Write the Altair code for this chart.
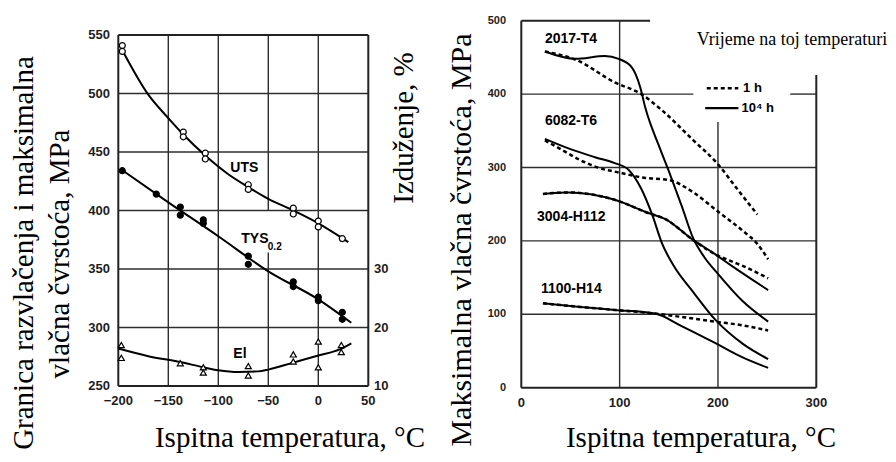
import altair as alt
import pandas as pd

# ---------------- left panel data ----------------
uts_temp = [-196, -196, -135, -135, -113, -113, -70, -70, -25, -25, 0, 0, 24]
uts_mpa = [541, 536, 467, 463, 449, 444, 422, 418, 402, 397, 391, 386, 376]
uts_fit_temp = [-196, -170, -150, -135, -113, -90, -70, -50, -25, 0, 30]
uts_fit_mpa = [537, 499, 479, 465, 447, 431, 420, 410, 400, 389, 373]

tys_temp = [-196, -162, -138, -138, -115, -115, -70, -70, -25, -25, 0, 0, 24, 24]
tys_mpa = [434, 414, 403, 396, 392, 389, 361, 354, 339, 335, 326, 323, 313, 307]
tys_fit_temp = [-197, -150, -100, -50, 0, 33]
tys_fit_mpa = [435, 407, 378, 348, 324, 304]

el_temp = [-197, -197, -138, -115, -115, -70, -70, -25, -25, 0, 0, 23, 23]
el_pct = [17.0, 14.8, 13.9, 13.2, 12.3, 13.4, 11.8, 15.4, 14.2, 17.6, 13.2, 17.0, 15.8]
el_fit_temp = [-200, -170, -138, -115, -100, -80, -60, -50, -25, 0, 22, 33]
el_fit_pct = [16.4, 15.1, 14.1, 13.2, 12.7, 12.4, 12.5, 12.8, 14.0, 15.2, 16.3, 17.3]

left_x_ticks = [-200, -150, -100, -50, 0, 50]
left_y_ticks = [250, 300, 350, 400, 450, 500, 550]
el_ticks = [10, 20, 30]

# ---------------- right panel data ----------------
a2017_1h_temp = [24, 55, 95, 122, 143, 175, 199, 220, 240]
a2017_1h_mpa = [458, 447, 416, 400, 378, 337, 306, 270, 236]
a2017_1e4h_temp = [24, 55, 85, 99, 112, 121, 126, 141, 152, 163, 175, 186, 200, 225, 251]
a2017_1e4h_mpa = [458, 448, 452, 448, 437, 409, 382, 326, 288, 248, 203, 178, 155, 118, 90]
a6082_1h_temp = [24, 40, 60, 80, 100, 125, 150, 175, 200, 225, 240, 251]
a6082_1h_mpa = [337, 325, 310, 299, 293, 286, 283, 266, 240, 214, 196, 175]
a6082_1e4h_temp = [24, 50, 75, 95, 109, 122, 133, 143, 155, 175, 197, 225, 251]
a6082_1e4h_mpa = [339, 325, 314, 306, 297, 271, 236, 197, 166, 130, 93, 60, 39]
a3004_1h_temp = [22, 48, 95, 129, 146, 175, 197, 214, 225, 251]
a3004_1h_mpa = [264, 266, 256, 238, 230, 201, 182, 172, 166, 149]
a3004_1e4h_temp = [22, 48, 95, 129, 146, 175, 197, 214, 251]
a3004_1e4h_mpa = [264, 266, 256, 238, 230, 201, 182, 166, 133]
a1100_1h_temp = [22, 60, 95, 136, 165, 197, 225, 251]
a1100_1h_mpa = [115, 110, 106, 101, 96, 90, 85, 78]
a1100_1e4h_temp = [22, 60, 95, 136, 163, 197, 224, 251]
a1100_1e4h_mpa = [115, 110, 106, 101, 84, 61, 42, 27]

right_x_ticks = [0, 100, 200, 300]
right_y_ticks = [0, 100, 200, 300, 400, 500]

SANS = "Liberation Sans"
SERIF = "Liberation Serif"
GRID = "#2e2e2e"

# ---------------- scales (pixel ranges place the two panels) ----------------
lx = alt.Scale(domain=[-200, 50], range=[110.3, 360.3], nice=False, zero=False)
ly = alt.Scale(domain=[250, 550], range=[378, 27], nice=False, zero=False)
ely = alt.Scale(domain=[10, 70], range=[378, 27], nice=False, zero=False)
rx = alt.Scale(domain=[0, 300], range=[513.3, 808.3], nice=False, zero=False)
ry = alt.Scale(domain=[0, 500], range=[379.7, 12.7], nice=False, zero=False)


def segs(rows, xs, ys, width, color=GRID, dash=None):
    df = pd.DataFrame(rows, columns=["x", "y", "x2", "y2"])
    kw = dict(color=color, strokeWidth=width)
    if dash:
        kw["strokeDash"] = dash
    return alt.Chart(df).mark_rule(**kw).encode(
        x=alt.X("x:Q", scale=xs, axis=None),
        y=alt.Y("y:Q", scale=ys, axis=None),
        x2="x2:Q", y2="y2:Q")


def curve(temps, vals, xs, ys, dash=None, width=2.0):
    df = pd.DataFrame({"t": temps, "v": vals})
    kw = dict(color="black", strokeWidth=width, interpolate="monotone")
    if dash:
        kw["strokeDash"] = dash
    return alt.Chart(df).mark_line(**kw).encode(
        x=alt.X("t:Q", scale=xs, axis=None), y=alt.Y("v:Q", scale=ys, axis=None))


def points(temps, vals, xs, ys, shape, fill):
    df = pd.DataFrame({"t": temps, "v": vals})
    return alt.Chart(df).mark_point(shape=shape, filled=True, fill=fill, stroke="black",
                                    strokeWidth=1.2, size=36, opacity=1).encode(
        x=alt.X("t:Q", scale=xs, axis=None), y=alt.Y("v:Q", scale=ys, axis=None))


def texts(labels, xv, yv, xs, ys, size, font=SANS, weight="bold", align="left"):
    df = pd.DataFrame({"label": labels, "x": xv, "y": yv})
    return alt.Chart(df).mark_text(font=font, fontSize=size, fontWeight=weight, align=align,
                                   baseline="middle", color="black").encode(
        x=alt.X("x:Q", scale=xs, axis=None), y=alt.Y("y:Q", scale=ys, axis=None),
        text="label:N")


def xticks(values, xs, ypix, size=13):
    df = pd.DataFrame({"v": values})
    return alt.Chart(df).mark_text(font=SANS, fontSize=size, fontWeight="bold", align="center",
                                   baseline="middle", color="#1e1e1e").encode(
        x=alt.X("v:Q", scale=xs, axis=None), y=alt.value(ypix),
        text=alt.Text("v:Q", format="d"))


def yticks(values, ys, xpix, align, size=13):
    df = pd.DataFrame({"v": values})
    return alt.Chart(df).mark_text(font=SANS, fontSize=size, fontWeight="bold", align=align,
                                   baseline="middle", color="#1e1e1e").encode(
        x=alt.value(xpix), y=alt.Y("v:Q", scale=ys, axis=None),
        text=alt.Text("v:Q", format="d"))


def title_text(label, xpix, ypix, size=29, angle=0):
    df = pd.DataFrame({"label": [label]})
    return alt.Chart(df).mark_text(font=SERIF, fontSize=size, fontWeight="normal",
                                   align="center", baseline="alphabetic", angle=angle,
                                   color="black").encode(
        x=alt.value(xpix), y=alt.value(ypix), text="label:N")


# ---------------- left panel ----------------
left_grid_rows = []
for v in [300, 350, 400, 450, 500]:
    left_grid_rows.append([-200, v, 50, v])
for t in [-150, -100, 0]:
    left_grid_rows.append([t, 250, t, 550])
left_grid_rows += [[-50, 250, -50, 364], [-50, 400, -50, 550]]

left_frame_rows = [[-200, 250, 50, 250], [-200, 550, 50, 550],
                   [-200, 250, -200, 550], [50, 250, 50, 550]]

mpa_layers = alt.layer(
    segs(left_grid_rows, lx, ly, 1.4),
    segs(left_frame_rows, lx, ly, 2.0, color="#222"),
    curve(uts_fit_temp, uts_fit_mpa, lx, ly),
    curve(tys_fit_temp, tys_fit_mpa, lx, ly),
    points(uts_temp, uts_mpa, lx, ly, "circle", "white"),
    points(tys_temp, tys_mpa, lx, ly, "circle", "black"),
    texts(["UTS"], [-88], [436], lx, ly, 14),
    texts(["TYS"], [-77], [376], lx, ly, 14),
    texts(["0.2"], [-50.5], [369], lx, ly, 10),
    texts(["El"], [-85], [277], lx, ly, 14),
    xticks(left_x_ticks, lx, 393),
    yticks(left_y_ticks, ly, 102, "right"),
)

el_layers = alt.layer(
    curve(el_fit_temp, el_fit_pct, lx, ely),
    points(el_temp, el_pct, lx, ely, "triangle-up", "white"),
    yticks(el_ticks, ely, 366, "left"),
)

left = alt.layer(mpa_layers, el_layers).resolve_scale(y="independent")

# ---------------- right panel ----------------
right_grid_rows = [[0, 100, 300, 100], [0, 200, 300, 200], [0, 300, 300, 300],
                   [0, 400, 175, 400], [273.5, 400, 300, 400],
                   [100, 0, 100, 500], [200, 0, 200, 362]]
right_frame_rows = [[0, 0, 300, 0], [0, 0, 0, 500], [0, 500, 131, 500], [300, 0, 300, 426]]

DASH = [4, 3]
right = alt.layer(
    segs(right_grid_rows, rx, ry, 1.4),
    segs(right_frame_rows, rx, ry, 2.0, color="#222"),
    curve(a2017_1h_temp, a2017_1h_mpa, rx, ry, dash=DASH, width=2.5),
    curve(a2017_1e4h_temp, a2017_1e4h_mpa, rx, ry),
    curve(a6082_1h_temp, a6082_1h_mpa, rx, ry, dash=DASH, width=2.5),
    curve(a6082_1e4h_temp, a6082_1e4h_mpa, rx, ry),
    curve(a3004_1h_temp, a3004_1h_mpa, rx, ry, dash=DASH, width=2.5),
    curve(a3004_1e4h_temp, a3004_1e4h_mpa, rx, ry),
    curve(a1100_1h_temp, a1100_1h_mpa, rx, ry, dash=DASH, width=2.5),
    curve(a1100_1e4h_temp, a1100_1e4h_mpa, rx, ry),
    texts(["2017-T4", "6082-T6", "3004-H112", "1100-H14"], [24, 24, 16, 20],
          [475, 363, 233, 134], rx, ry, 14),
    segs([[188.6, 408, 220.7, 408]], rx, ry, 2.5, color="black", dash=DASH),
    segs([[187, 381, 220.8, 381]], rx, ry, 2.2, color="black"),
    texts(["1 h", "10⁴ h"], [225.5, 224], [408, 381], rx, ry, 13),
    texts(["Vrijeme na toj temperaturi"], [178.5], [473.5], rx, ry, 18, font=SERIF,
          weight="normal"),
    xticks(right_x_ticks, rx, 394.7),
    yticks(right_y_ticks, ry, 498, "right", size=11),
)

# ---------------- axis titles ----------------
titles = alt.layer(
    title_text("Granica razvlačenja i maksimalna", 25, 245, angle=270),
    title_text("vlačna čvrstoća, MPa", 61, 246, angle=270),
    title_text("Izduženje, %", 405, 120, angle=270),
    title_text("Ispitna temperatura, °C", 282, 439),
    title_text("Maksimalna vlačna čvrstoća, MPa", 462.5, 232, size=30, angle=270),
    title_text("Ispitna temperatura, °C", 693, 439),
)

chart = alt.layer(left, right, titles).resolve_scale(
    x="independent", y="independent"
).properties(
    width=880, height=446, padding=0, autosize=alt.AutoSizeParams(type="none")
).configure_view(strokeOpacity=0)

chart.save("out.html", embed_options={"renderer": "svg", "actions": False})
